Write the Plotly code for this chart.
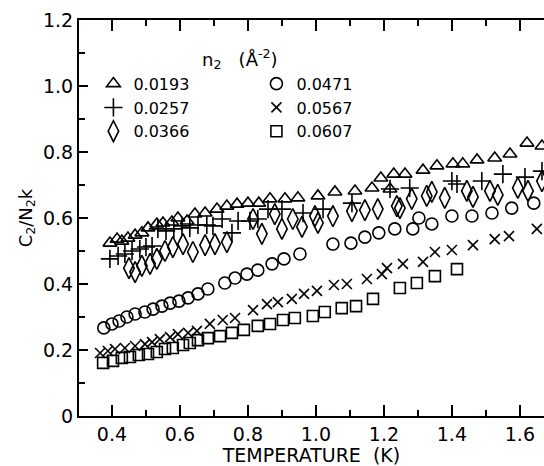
import plotly.graph_objects as go

# ---- data ----
labels = ["0.0193", "0.0471", "0.0257", "0.0567", "0.0366", "0.0607"]
legend_title = "n<sub>2</sub>   (Å<sup>-2</sup>)"

t_0193 = [0.394, 0.415, 0.429, 0.447, 0.468, 0.488, 0.506, 0.532, 0.550, 0.576, 0.594, 0.621, 0.644, 0.674,
          0.709, 0.738, 0.768, 0.800, 0.832, 0.865, 0.909, 0.947, 1.006, 1.056, 1.115, 1.165, 1.191, 1.218,
          1.229, 1.262, 1.315, 1.356, 1.403, 1.432, 1.474, 1.526, 1.571, 1.621, 1.665]
c_0193 = [0.524, 0.536, 0.530, 0.539, 0.548, 0.555, 0.570, 0.582, 0.585, 0.588, 0.600, 0.591, 0.612, 0.615,
          0.627, 0.636, 0.642, 0.645, 0.645, 0.658, 0.658, 0.661, 0.667, 0.679, 0.682, 0.691, 0.721, 0.688,
          0.733, 0.733, 0.745, 0.758, 0.764, 0.764, 0.776, 0.782, 0.794, 0.827, 0.818]

t_0257 = [0.394, 0.418, 0.438, 0.459, 0.482, 0.500, 0.518, 0.535, 0.559, 0.582, 0.606, 0.629, 0.653, 0.679,
          0.697, 0.724, 0.753, 0.771, 0.806, 0.829, 0.859, 0.900, 0.962, 1.021, 1.106, 1.218, 1.276, 1.400,
          1.415, 1.488, 1.550, 1.615, 1.665]
c_0257 = [0.476, 0.485, 0.491, 0.500, 0.506, 0.512, 0.515, 0.567, 0.561, 0.567, 0.576, 0.570, 0.579, 0.579,
          0.576, 0.597, 0.555, 0.591, 0.591, 0.597, 0.627, 0.627, 0.615, 0.627, 0.645, 0.688, 0.691, 0.712,
          0.703, 0.712, 0.733, 0.724, 0.742]

t_0366 = [0.450, 0.468, 0.488, 0.512, 0.532, 0.556, 0.579, 0.609, 0.638, 0.674, 0.703, 0.738, 0.815, 0.841,
          0.879, 0.900, 0.932, 0.959, 0.997, 1.006, 1.050, 1.106, 1.144, 1.182, 1.238, 1.247, 1.282, 1.326,
          1.341, 1.379, 1.444, 1.462, 1.512, 1.535, 1.594, 1.624, 1.665]
c_0366 = [0.448, 0.436, 0.455, 0.461, 0.476, 0.500, 0.512, 0.521, 0.497, 0.518, 0.521, 0.527, 0.597, 0.552,
          0.612, 0.567, 0.597, 0.573, 0.606, 0.585, 0.606, 0.621, 0.624, 0.627, 0.636, 0.630, 0.658, 0.667,
          0.679, 0.661, 0.682, 0.664, 0.682, 0.670, 0.691, 0.682, 0.712]

t_0471 = [0.376, 0.400, 0.421, 0.444, 0.468, 0.497, 0.521, 0.547, 0.571, 0.597, 0.624, 0.653, 0.682, 0.732,
          0.762, 0.797, 0.829, 0.871, 0.906, 0.953, 1.050, 1.103, 1.144, 1.185, 1.232, 1.285, 1.303, 1.341,
          1.400, 1.459, 1.518, 1.576, 1.641]
c_0471 = [0.267, 0.279, 0.288, 0.300, 0.309, 0.315, 0.324, 0.333, 0.342, 0.348, 0.358, 0.370, 0.385, 0.403,
          0.418, 0.430, 0.442, 0.461, 0.476, 0.491, 0.521, 0.524, 0.542, 0.555, 0.567, 0.567, 0.600, 0.582,
          0.606, 0.606, 0.615, 0.630, 0.645]

t_0567 = [0.365, 0.388, 0.409, 0.438, 0.468, 0.497, 0.518, 0.541, 0.571, 0.594, 0.624, 0.650, 0.688, 0.726,
          0.762, 0.815, 0.856, 0.888, 0.929, 0.965, 1.003, 1.053, 1.091, 1.150, 1.194, 1.209, 1.256, 1.315,
          1.350, 1.400, 1.462, 1.526, 1.568, 1.650]
c_0567 = [0.191, 0.197, 0.203, 0.206, 0.212, 0.218, 0.224, 0.233, 0.239, 0.248, 0.252, 0.258, 0.279, 0.291,
          0.297, 0.321, 0.339, 0.345, 0.355, 0.370, 0.379, 0.397, 0.400, 0.415, 0.430, 0.448, 0.461, 0.467,
          0.497, 0.503, 0.518, 0.536, 0.545, 0.567]

t_0607 = [0.374, 0.403, 0.429, 0.453, 0.479, 0.506, 0.532, 0.556, 0.579, 0.609, 0.629, 0.653, 0.682, 0.718,
          0.753, 0.788, 0.829, 0.865, 0.903, 0.938, 0.991, 1.026, 1.076, 1.118, 1.168, 1.247, 1.297, 1.350,
          1.415]
c_0607 = [0.161, 0.167, 0.176, 0.179, 0.185, 0.188, 0.194, 0.203, 0.206, 0.215, 0.221, 0.230, 0.236, 0.242,
          0.252, 0.261, 0.273, 0.279, 0.291, 0.297, 0.303, 0.315, 0.327, 0.333, 0.355, 0.388, 0.403, 0.424,
          0.445]

xticks = [0.4, 0.6, 0.8, 1.0, 1.2, 1.4, 1.6]
xtick_text = ["0.4", "0.6", "0.8", "1.0", "1.2", "1.4", "1.6"]
yticks = [0, 0.2, 0.4, 0.6, 0.8, 1.0, 1.2]
ytick_text = ["0", "0.2", "0.4", "0.6", "0.8", "1.0", "1.2"]

series = [
    (t_0193, c_0193, labels[0], "triangle-up-open", 12),
    (t_0471, c_0471, labels[1], "circle-open", 12),
    (t_0257, c_0257, labels[2], "cross-thin-open", 13),
    (t_0567, c_0567, labels[3], "x-thin-open", 10),
    (t_0366, c_0366, labels[4], "diamond-tall-open", 15),
    (t_0607, c_0607, labels[5], "square-open", 11),
]

FONT = "DejaVu Sans"
fig = go.Figure()
for xs, ys, name, sym, size in series:
    fig.add_trace(go.Scatter(
        x=xs, y=ys, mode="markers", name=name,
        marker=dict(symbol=sym, size=size, color="black",
                    line=dict(color="black", width=1.6)),
    ))

axis_common = dict(
    showgrid=False, zeroline=False, showline=True, linecolor="black", linewidth=2,
    ticks="inside", tickcolor="black", tickwidth=1.6,
    tickfont=dict(family=FONT, size=19, color="black"),
)

fig.update_layout(
    width=544, height=466,
    margin=dict(l=79, r=0, t=20, b=50),
    paper_bgcolor="white", plot_bgcolor="white",
    font=dict(family=FONT, size=18, color="black"),
    xaxis=dict(
        range=[0.303, 1.671], tickvals=xticks, ticktext=xtick_text, ticklen=11,
        mirror="ticks",
        minor=dict(dtick=0.1, tick0=0.3, ticks="inside", ticklen=6, tickcolor="black", tickwidth=1.6),
        title=dict(text="TEMPERATURE  (K)", font=dict(family=FONT, size=19), standoff=4),
        **axis_common,
    ),
    yaxis=dict(
        range=[0, 1.2], tickvals=yticks, ticktext=ytick_text, ticklen=9,
        minor=dict(dtick=0.1, tick0=0, ticks="inside", ticklen=6, tickcolor="black", tickwidth=1.6),
        title=dict(text="C<sub>2</sub>/N<sub>2</sub>k", font=dict(family=FONT, size=18), standoff=6),
        **axis_common,
    ),
    yaxis2=dict(
        overlaying="y", side="right", range=[0, 1.2], tickvals=yticks, showticklabels=False,
        showgrid=False, zeroline=False, showline=False, ticks="inside", ticklen=6,
        tickcolor="black", tickwidth=1.6,
    ),
    legend=dict(
        orientation="h", x=0.031, y=0.882, xanchor="left", yanchor="top",
        entrywidth=118, entrywidthmode="pixels",
        font=dict(family=FONT, size=16, color="black"),
        bgcolor="rgba(0,0,0,0)", itemclick=False,
    ),
    annotations=[dict(
        text=legend_title, xref="paper", yref="paper", x=0.26, y=0.902,
        xanchor="left", yanchor="middle", showarrow=False,
        font=dict(family=FONT, size=18, color="black"),
    )],
)

fig.write_html("out.html", config={"displayModeBar": False},
               post_script="document.body.style.margin='0';")
